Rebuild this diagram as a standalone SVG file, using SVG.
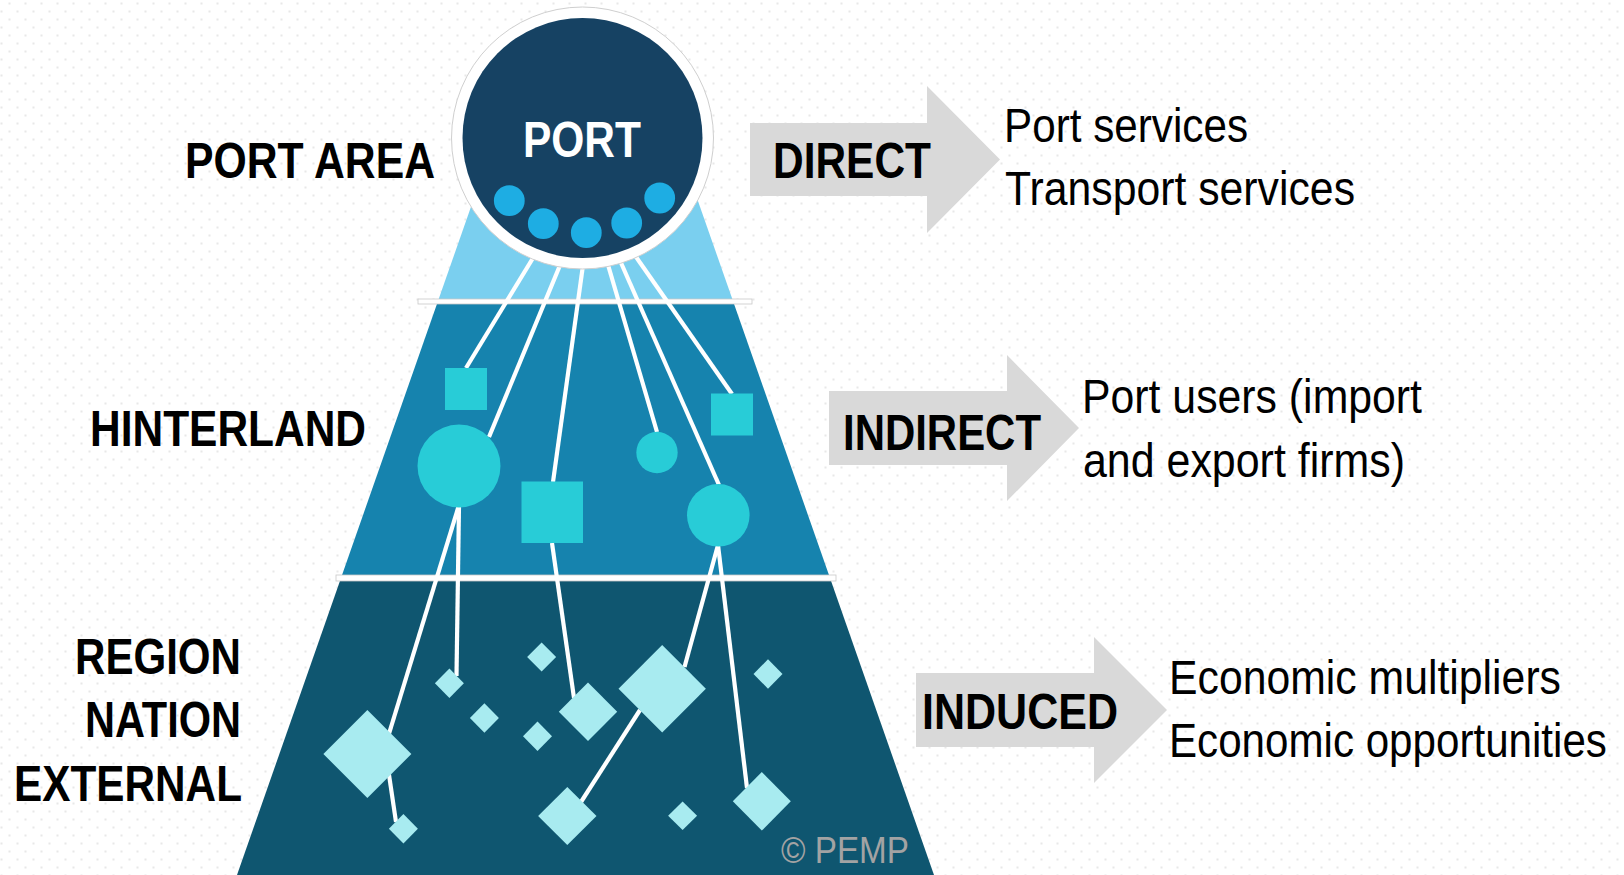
<svg xmlns="http://www.w3.org/2000/svg" width="1624" height="875" viewBox="0 0 1624 875">
<defs>
<pattern id="dots" width="16" height="16" patternUnits="userSpaceOnUse">
<rect x="0.5" y="10.5" width="2" height="2" fill="#e8e8e8"/>
<rect x="8.5" y="2.5" width="2" height="2" fill="#e8e8e8"/>
</pattern>
<style>
.lbl{font-family:"Liberation Sans",Arial,sans-serif;font-weight:bold;font-size:50px;fill:#000}
.txt{font-family:"Liberation Sans",Arial,sans-serif;font-size:49px;fill:#000}
.arrow{fill:#d9d9d9}
.conn{stroke:#fff;stroke-width:4.2;fill:none;stroke-linecap:butt}
.sq{fill:#28ccd7}
.dia{fill:#a8ebf0}
.dot{fill:#1eade3}
.sep{fill:#fff;stroke:#c8c8c8;stroke-width:0.8}
</style>
</defs>
<rect x="0" y="0" width="1624" height="875" fill="#fff"/>
<rect x="0" y="0" width="1624" height="875" fill="url(#dots)"/>

<g id="pyramid">
<polygon points="483.9,170 687.1,170 733,301 438,301" fill="#7acfef"/>
<polygon points="438,301 733,301 830,578 341,578" fill="#1683ae"/>
<polygon points="341,578 830,578 934,875 237,875" fill="#0f5670"/>
<rect class="sep" x="418" y="299" width="334" height="5"/>
<rect class="sep" x="336" y="575" width="500" height="6"/>
</g>

<g id="connectors">
<line class="conn" x1="533" y1="258" x2="466" y2="368"/>
<line class="conn" x1="563" y1="258" x2="489" y2="437"/>
<line class="conn" x1="584" y1="258" x2="553" y2="482"/>
<line class="conn" x1="606" y1="258" x2="657" y2="432"/>
<line class="conn" x1="618" y1="256" x2="719" y2="485"/>
<line class="conn" x1="634" y1="254" x2="732" y2="394"/>
<line class="conn" x1="459" y1="505" x2="388" y2="737"/>
<line class="conn" x1="459" y1="505" x2="456.5" y2="676"/>
<line class="conn" x1="388" y1="768" x2="396" y2="822"/>
<line class="conn" x1="552" y1="543" x2="574" y2="698"/>
<line class="conn" x1="718" y1="545" x2="684.5" y2="667"/>
<line class="conn" x1="718" y1="545" x2="747" y2="788"/>
<line class="conn" x1="640" y1="710" x2="581" y2="802"/>
</g>

<g id="hinterland-nodes">
<rect id="sq1" class="sq" x="445" y="368" width="42" height="42"/>
<circle id="c1" class="sq" cx="459" cy="466" r="41.5"/>
<rect id="sq2" class="sq" x="521.5" y="481.5" width="61.5" height="61.5"/>
<circle id="c2" class="sq" cx="657" cy="452.5" r="20.7"/>
<rect id="sq3" class="sq" x="711" y="393.5" width="42" height="42"/>
<circle id="c3" class="sq" cx="718.3" cy="515.3" r="31.3"/>
</g>

<g id="region-nodes">
<polygon id="d1" class="dia" points="367.4,710 411.4,754 367.4,798 323.4,754"/>
<polygon id="d2" class="dia" points="449.4,668.5 463.9,683.2 449.4,698 434.9,683.2"/>
<polygon id="d3" class="dia" points="484.4,703.3 498.9,718 484.4,732.7 469.9,718"/>
<polygon id="d4" class="dia" points="541.6,642.5 556.1,657 541.6,671.5 527.1,657"/>
<polygon id="d5" class="dia" points="537.5,721.5 552,736.2 537.5,751 523,736.2"/>
<polygon id="d6" class="dia" points="588,682.6 617.2,711.8 588,741 558.8,711.8"/>
<polygon id="d7" class="dia" points="662.2,645 705.9,688.8 662.2,732.6 618.5,688.8"/>
<polygon id="d8" class="dia" points="768,659.3 782.5,674 768,688.7 753.5,674"/>
<polygon id="d9" class="dia" points="403.4,814 417.9,828.7 403.4,843.4 388.9,828.7"/>
<polygon id="d10" class="dia" points="567.3,787 596.5,816 567.3,845 538.1,816"/>
<polygon id="d11" class="dia" points="682.6,801.5 697.1,815.8 682.6,830.1 668.1,815.8"/>
<polygon id="d12" class="dia" points="761.8,772 790.8,801.3 761.8,830.6 732.8,801.3"/>
</g>

<g id="port">
<circle cx="582.5" cy="138" r="131" fill="#fff" stroke="#cfcfcf" stroke-width="1"/>
<circle cx="582.5" cy="138" r="120" fill="#164263"/>
<circle class="dot" cx="509.3" cy="200.7" r="15.4"/>
<circle class="dot" cx="543.3" cy="223.7" r="15.4"/>
<circle class="dot" cx="586.3" cy="232.7" r="15.4"/>
<circle class="dot" cx="626.7" cy="223" r="15.4"/>
<circle class="dot" cx="659.7" cy="198" r="15.4"/>
<text class="lbl" x="523" y="157" textLength="118" lengthAdjust="spacingAndGlyphs" style="fill:#fff">PORT</text>
</g>

<g id="labels-left">
<text class="lbl" x="185" y="178" textLength="250" lengthAdjust="spacingAndGlyphs">PORT AREA</text>
<text class="lbl" x="90" y="446" textLength="276" lengthAdjust="spacingAndGlyphs">HINTERLAND</text>
<text class="lbl" x="75" y="674" textLength="166" lengthAdjust="spacingAndGlyphs">REGION</text>
<text class="lbl" x="85" y="737" textLength="156" lengthAdjust="spacingAndGlyphs">NATION</text>
<text class="lbl" x="14" y="801" textLength="228" lengthAdjust="spacingAndGlyphs">EXTERNAL</text>
</g>

<g id="direct">
<polygon class="arrow" points="750,123 927,123 927,86 1000,159.5 927,233 927,196 750,196"/>
<text class="lbl" x="773" y="178" textLength="158" lengthAdjust="spacingAndGlyphs">DIRECT</text>
<text class="txt" x="1004" y="142" textLength="244" lengthAdjust="spacingAndGlyphs">Port services</text>
<text class="txt" x="1005" y="205" textLength="350" lengthAdjust="spacingAndGlyphs">Transport services</text>
</g>

<g id="indirect">
<polygon class="arrow" points="829,391 1007,391 1007,355 1079,428 1007,501 1007,465 829,465"/>
<text class="lbl" x="843" y="450" textLength="198" lengthAdjust="spacingAndGlyphs">INDIRECT</text>
<text class="txt" x="1082" y="413" textLength="340" lengthAdjust="spacingAndGlyphs">Port users (import</text>
<text class="txt" x="1083" y="477" textLength="322" lengthAdjust="spacingAndGlyphs">and export firms)</text>
</g>

<g id="induced">
<polygon class="arrow" points="916,673 1094,673 1094,637 1167,710 1094,783 1094,747 916,747"/>
<text class="lbl" x="922" y="728.5" textLength="196" lengthAdjust="spacingAndGlyphs">INDUCED</text>
<text class="txt" x="1169" y="694" textLength="392" lengthAdjust="spacingAndGlyphs">Economic multipliers</text>
<text class="txt" x="0" y="0" transform="translate(1169 757) scale(0.86 1)">Economic opportunities</text>
</g>

<g id="copyright">
<text x="781" y="863" textLength="128" lengthAdjust="spacingAndGlyphs" style="font-family:'Liberation Sans',Arial,sans-serif;font-size:37px;fill:#a3a3a3">© PEMP</text>
</g>
</svg>
